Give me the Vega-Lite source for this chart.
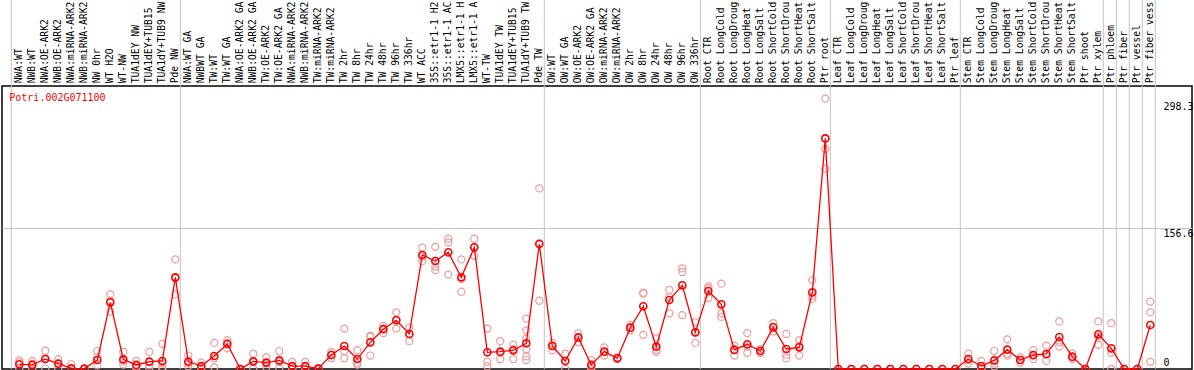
{
  "$schema": "https://vega.github.io/schema/vega-lite/v6.json",
  "width": 1190,
  "height": 283,
  "autosize": "none",
  "padding": {"left": 2, "top": 86, "right": 2, "bottom": 1},
  "background": "white",
  "config": {"view": {"stroke": "black", "strokeWidth": 1.5}, "font": "DejaVu Sans Mono"},
  "datasets": {
    "groups": [{"after": 0}, {"after": 13}, {"after": 41}, {"after": 53}, {"after": 63}, {"after": 73}, {"after": 84}, {"after": 85}, {"after": 86}, {"after": 87}, {"after": 88}],
    "means": [
      {"i": 1, "label": "NWA:WT", "mean": 5.2},
      {"i": 2, "label": "NWB:WT", "mean": 4.5},
      {"i": 3, "label": "NWA:OE-ARK2", "mean": 11.1},
      {"i": 4, "label": "NWB:OE-ARK2", "mean": 5.9},
      {"i": 5, "label": "NWA:miRNA-ARK2", "mean": 0.7},
      {"i": 6, "label": "NWB:miRNA-ARK2", "mean": 0.4},
      {"i": 7, "label": "NW 0hr", "mean": 10},
      {"i": 8, "label": "WT H2O", "mean": 74.2},
      {"i": 9, "label": "WT-NW", "mean": 10.7},
      {"i": 10, "label": "TUA1dEY NW", "mean": 4.5},
      {"i": 11, "label": "TUA1dEY+TUB15", "mean": 8.2},
      {"i": 12, "label": "TUA1dY+TUB9 NW", "mean": 8.9},
      {"i": 13, "label": "Pde NW", "mean": 102},
      {"i": 14, "label": "NWA:WT GA", "mean": 8.2},
      {"i": 15, "label": "NWBWT GA", "mean": 3.3},
      {"i": 16, "label": "TW:WT", "mean": 14.5},
      {"i": 17, "label": "TW:WT GA", "mean": 27.8},
      {"i": 18, "label": "NWA:OE-ARK2 GA", "mean": 0},
      {"i": 19, "label": "NWB:OE-ARK2 GA", "mean": 8.5},
      {"i": 20, "label": "TW:OE-ARK2", "mean": 7.1},
      {"i": 21, "label": "TW:OE-ARK2 GA", "mean": 9.6},
      {"i": 22, "label": "NWA:miRNA-ARK2", "mean": 3.3},
      {"i": 23, "label": "NWB:miRNA-ARK2", "mean": 3.3},
      {"i": 24, "label": "TW:miRNA-ARK2", "mean": 0.4},
      {"i": 25, "label": "TW:miRNA-ARK2", "mean": 15.6},
      {"i": 26, "label": "TW 2hr", "mean": 25.6},
      {"i": 27, "label": "TW 8hr", "mean": 11.1},
      {"i": 28, "label": "TW 24hr", "mean": 29.7},
      {"i": 29, "label": "TW 48hr", "mean": 44.3},
      {"i": 30, "label": "TW 96hr", "mean": 54.2},
      {"i": 31, "label": "TW 336hr", "mean": 39},
      {"i": 32, "label": "WT ACC", "mean": 126.9},
      {"i": 33, "label": "35S::etr1-1 H2", "mean": 120.2},
      {"i": 34, "label": "35S::etr1-1 AC", "mean": 129.9},
      {"i": 35, "label": "LMX5::etr1-1 H", "mean": 102},
      {"i": 36, "label": "LMX5::etr1-1 A", "mean": 135.4},
      {"i": 37, "label": "WT-TW", "mean": 18.6},
      {"i": 38, "label": "TUA1dEY TW", "mean": 19.3},
      {"i": 39, "label": "TUA1dEY+TUB15", "mean": 20.8},
      {"i": 40, "label": "TUA1dY+TUB9 TW", "mean": 28.6},
      {"i": 41, "label": "Pde TW", "mean": 139.1},
      {"i": 42, "label": "OW:WT", "mean": 25.6},
      {"i": 43, "label": "OW:WT GA", "mean": 8.9},
      {"i": 44, "label": "OW:OE-ARK2", "mean": 35.2},
      {"i": 45, "label": "OW:OE-ARK2 GA", "mean": 4.5},
      {"i": 46, "label": "OW:miRNA-ARK2", "mean": 19.3},
      {"i": 47, "label": "OW:miRNA-ARK2", "mean": 11.9},
      {"i": 48, "label": "OW 2hr", "mean": 46},
      {"i": 49, "label": "OW 8hr", "mean": 69.8},
      {"i": 50, "label": "OW 24hr", "mean": 24.9},
      {"i": 51, "label": "OW 48hr", "mean": 76.8},
      {"i": 52, "label": "OW 96hr", "mean": 93.1},
      {"i": 53, "label": "OW 336hr", "mean": 40.8},
      {"i": 54, "label": "Root CTR", "mean": 86.8},
      {"i": 55, "label": "Root LongCold", "mean": 72},
      {"i": 56, "label": "Root LongDroug", "mean": 21.2},
      {"i": 57, "label": "Root LongHeat", "mean": 27.5},
      {"i": 58, "label": "Root LongSalt", "mean": 20},
      {"i": 59, "label": "Root ShortCold", "mean": 46.4},
      {"i": 60, "label": "Root ShortDrou", "mean": 22.3},
      {"i": 61, "label": "Root ShortHeat", "mean": 24.1},
      {"i": 62, "label": "Root ShortSalt", "mean": 85.3},
      {"i": 63, "label": "Ptr root", "mean": 256.7},
      {"i": 64, "label": "Leaf CTR", "mean": 0},
      {"i": 65, "label": "Leaf LongCold", "mean": 0},
      {"i": 66, "label": "Leaf LongDroug", "mean": 0},
      {"i": 67, "label": "Leaf LongHeat", "mean": 0},
      {"i": 68, "label": "Leaf LongSalt", "mean": 0},
      {"i": 69, "label": "Leaf ShortCold", "mean": 0},
      {"i": 70, "label": "Leaf ShortDrou", "mean": 0},
      {"i": 71, "label": "Leaf ShortHeat", "mean": 0},
      {"i": 72, "label": "Leaf ShortSalt", "mean": 0},
      {"i": 73, "label": "Ptr leaf", "mean": 0},
      {"i": 74, "label": "Stem CTR", "mean": 11.1},
      {"i": 75, "label": "Stem LongCold", "mean": 3.3},
      {"i": 76, "label": "Stem LongDroug", "mean": 9.6},
      {"i": 77, "label": "Stem LongHeat", "mean": 21.5},
      {"i": 78, "label": "Stem LongSalt", "mean": 10},
      {"i": 79, "label": "Stem ShortCold", "mean": 15.6},
      {"i": 80, "label": "Stem ShortDrou", "mean": 16.7},
      {"i": 81, "label": "Stem ShortHeat", "mean": 35.6},
      {"i": 82, "label": "Stem ShortSalt", "mean": 13.7},
      {"i": 83, "label": "Ptr shoot", "mean": 0},
      {"i": 84, "label": "Ptr xylem", "mean": 38.6},
      {"i": 85, "label": "Ptr phloem", "mean": 23},
      {"i": 86, "label": "Ptr fiber", "mean": 0},
      {"i": 87, "label": "Ptr vessel", "mean": 0},
      {"i": 88, "label": "Ptr fiber vess", "mean": 49}
    ],
    "reps": [
      {"i":1,"v":9.5},{"i":1,"v":7.5},{"i":1,"v":0.5},
      {"i":2,"v":9},{"i":2,"v":6},{"i":2,"v":0},
      {"i":3,"v":20.4},{"i":3,"v":11.9},{"i":3,"v":0.5},
      {"i":4,"v":11},{"i":4,"v":6},{"i":4,"v":0.5},
      {"i":5,"v":5.5},{"i":5,"v":0},{"i":5,"v":0},
      {"i":6,"v":0.5},{"i":6,"v":0},{"i":6,"v":0},
      {"i":7,"v":20},{"i":7,"v":13},{"i":7,"v":4},
      {"i":8,"v":83},{"i":8,"v":76},{"i":8,"v":64},
      {"i":9,"v":19},{"i":9,"v":9},{"i":9,"v":5},
      {"i":10,"v":9},{"i":10,"v":3},{"i":10,"v":1},
      {"i":11,"v":19},{"i":11,"v":4},{"i":11,"v":1},
      {"i":12,"v":28},{"i":12,"v":6},{"i":12,"v":2},{"i":12,"v":0},
      {"i":13,"v":122},{"i":13,"v":101},{"i":13,"v":83},
      {"i":14,"v":15},{"i":14,"v":6},{"i":14,"v":3},
      {"i":15,"v":7},{"i":15,"v":2},{"i":15,"v":1},
      {"i":16,"v":29},{"i":16,"v":12},{"i":16,"v":2},
      {"i":17,"v":32},{"i":17,"v":29},{"i":17,"v":23},
      {"i":18,"v":0},{"i":18,"v":0},{"i":18,"v":0},
      {"i":19,"v":17},{"i":19,"v":8},{"i":19,"v":0},
      {"i":20,"v":13},{"i":20,"v":6},{"i":20,"v":2},
      {"i":21,"v":20},{"i":21,"v":8},{"i":21,"v":1},
      {"i":22,"v":8},{"i":22,"v":2},{"i":22,"v":0},
      {"i":23,"v":8},{"i":23,"v":2},{"i":23,"v":0},
      {"i":24,"v":1},{"i":24,"v":0},{"i":24,"v":0},
      {"i":25,"v":19},{"i":25,"v":16},{"i":25,"v":12},
      {"i":26,"v":45},{"i":26,"v":20},{"i":26,"v":12},
      {"i":27,"v":21},{"i":27,"v":7},{"i":27,"v":5},
      {"i":28,"v":37},{"i":28,"v":36},{"i":28,"v":15},
      {"i":29,"v":48},{"i":29,"v":45},{"i":29,"v":40},
      {"i":30,"v":63},{"i":30,"v":55},{"i":30,"v":45},
      {"i":31,"v":46},{"i":31,"v":39},{"i":31,"v":31},
      {"i":32,"v":135},{"i":32,"v":125},{"i":32,"v":120},
      {"i":33,"v":136},{"i":33,"v":114},{"i":33,"v":110},
      {"i":34,"v":145},{"i":34,"v":141},{"i":34,"v":105},
      {"i":35,"v":122},{"i":35,"v":100},{"i":35,"v":86},
      {"i":36,"v":145},{"i":36,"v":135},{"i":36,"v":126},
      {"i":37,"v":45},{"i":37,"v":8},{"i":37,"v":3},
      {"i":38,"v":31},{"i":38,"v":18},{"i":38,"v":11},
      {"i":39,"v":27},{"i":39,"v":22},{"i":39,"v":11},
      {"i":40,"v":56},{"i":40,"v":43},{"i":40,"v":34},{"i":40,"v":22},{"i":40,"v":14},{"i":40,"v":10},
      {"i":41,"v":201},{"i":41,"v":140},{"i":41,"v":76},
      {"i":42,"v":29},{"i":42,"v":26},{"i":42,"v":21},
      {"i":43,"v":17},{"i":43,"v":9},{"i":43,"v":0},
      {"i":44,"v":40},{"i":44,"v":35},{"i":44,"v":30},
      {"i":45,"v":10},{"i":45,"v":3},{"i":45,"v":0},
      {"i":46,"v":24},{"i":46,"v":19},{"i":46,"v":15},
      {"i":47,"v":13},{"i":47,"v":12},{"i":47,"v":11},
      {"i":48,"v":49},{"i":48,"v":46},{"i":48,"v":43},
      {"i":49,"v":85},{"i":49,"v":84},{"i":49,"v":38},
      {"i":50,"v":34},{"i":50,"v":21},{"i":50,"v":19},
      {"i":51,"v":88},{"i":51,"v":80},{"i":51,"v":62},
      {"i":52,"v":112},{"i":52,"v":108},{"i":52,"v":60},
      {"i":53,"v":52},{"i":53,"v":41},{"i":53,"v":29},
      {"i":54,"v":92},{"i":54,"v":90},{"i":54,"v":79},
      {"i":55,"v":95},{"i":55,"v":62},{"i":55,"v":58},
      {"i":56,"v":26},{"i":56,"v":22},{"i":56,"v":15},
      {"i":57,"v":40},{"i":57,"v":25},{"i":57,"v":18},
      {"i":58,"v":22},{"i":58,"v":20},{"i":58,"v":18},
      {"i":59,"v":51},{"i":59,"v":47},{"i":59,"v":42},
      {"i":60,"v":39},{"i":60,"v":16},{"i":60,"v":12},
      {"i":61,"v":32},{"i":61,"v":26},{"i":61,"v":15},
      {"i":62,"v":99},{"i":62,"v":81},{"i":62,"v":78},
      {"i":63,"v":301},{"i":63,"v":245},{"i":63,"v":223},
      {"i":64,"v":0},{"i":65,"v":0},{"i":66,"v":0},{"i":67,"v":0},{"i":68,"v":0},
      {"i":69,"v":0},{"i":70,"v":0},{"i":71,"v":0},{"i":72,"v":0},{"i":73,"v":0},
      {"i":74,"v":17},{"i":74,"v":10},{"i":74,"v":6},
      {"i":75,"v":9},{"i":75,"v":1},{"i":75,"v":0},
      {"i":76,"v":20},{"i":76,"v":6},{"i":76,"v":3},
      {"i":77,"v":33},{"i":77,"v":17},{"i":77,"v":15},
      {"i":78,"v":13},{"i":78,"v":10},{"i":78,"v":7},
      {"i":79,"v":21},{"i":79,"v":15},{"i":79,"v":11},
      {"i":80,"v":26},{"i":80,"v":16},{"i":80,"v":9},
      {"i":81,"v":53},{"i":81,"v":30},{"i":81,"v":25},
      {"i":82,"v":17},{"i":82,"v":13},{"i":82,"v":11},
      {"i":83,"v":0},
      {"i":84,"v":53},{"i":84,"v":36},{"i":84,"v":27},
      {"i":85,"v":51},{"i":85,"v":18},{"i":85,"v":0},
      {"i":86,"v":0},{"i":87,"v":0},
      {"i":88,"v":75},{"i":88,"v":63},{"i":88,"v":8}
    ]
  },
  "layer": [
    {
      "data": {"name": "groups"},
      "mark": {"type": "rule", "color": "#c4c4c4", "strokeWidth": 1, "xOffset": 5},
      "encoding": {
        "x": {"field": "after", "type": "quantitative", "scale": {"domain": [-0.331, 91.208], "nice": false, "zero": false}, "axis": null},
        "y": {"datum": 0, "type": "quantitative", "scale": {"domain": [0, 315], "nice": false, "zero": true},
          "axis": {"orient": "right", "values": [0, 156.6, 298.3], "offset": -29, "ticks": false, "domain": false,
            "labelPadding": 0, "labelAlign": "left",
            "labelBaseline": {"condition": {"test": "datum.value == 0", "value": "bottom"}, "value": "top"},
            "labelOffset": {"condition": {"test": "datum.value == 0", "value": -2}, "value": 0},
            "labelExpr": "'' + datum.value",
            "labelFont": "DejaVu Sans Mono", "labelFontSize": 10, "labelColor": "black",
            "grid": true, "gridColor": "#c4c4c4",
            "gridOpacity": {"condition": {"test": "datum.value == 156.6", "value": 1}, "value": 0},
            "title": null}},
        "y2": {"datum": 411}
      }
    },
    {
      "data": {"name": "reps"},
      "mark": {"type": "point", "shape": "circle", "filled": false, "stroke": "#f09a9a", "strokeWidth": 1.2, "size": 50, "opacity": 1},
      "encoding": {
        "x": {"field": "i", "type": "quantitative"},
        "y": {"field": "v", "type": "quantitative"}
      }
    },
    {
      "data": {"name": "means"},
      "mark": {"type": "line", "color": "#ff0000", "strokeWidth": 1.3},
      "encoding": {
        "x": {"field": "i", "type": "quantitative"},
        "y": {"field": "mean", "type": "quantitative"}
      }
    },
    {
      "data": {"name": "means"},
      "mark": {"type": "point", "shape": "circle", "filled": false, "stroke": "#ff0000", "strokeWidth": 1.6, "size": 50, "opacity": 1},
      "encoding": {
        "x": {"field": "i", "type": "quantitative"},
        "y": {"field": "mean", "type": "quantitative"}
      }
    },
    {
      "data": {"name": "means"},
      "mark": {"type": "text", "angle": 270, "align": "left", "baseline": "middle", "font": "DejaVu Sans Mono", "fontSize": 9.7, "color": "black"},
      "encoding": {
        "x": {"field": "i", "type": "quantitative"},
        "y": {"datum": 318},
        "text": {"field": "label"}
      }
    },
    {
      "data": {"values": [{"name": "Potri.002G071100"}]},
      "mark": {"type": "text", "align": "left", "baseline": "middle", "font": "DejaVu Sans Mono", "fontSize": 10, "color": "#ff0000"},
      "encoding": {
        "x": {"datum": 0.23},
        "y": {"datum": 302},
        "text": {"field": "name"}
      }
    }
  ]
}
